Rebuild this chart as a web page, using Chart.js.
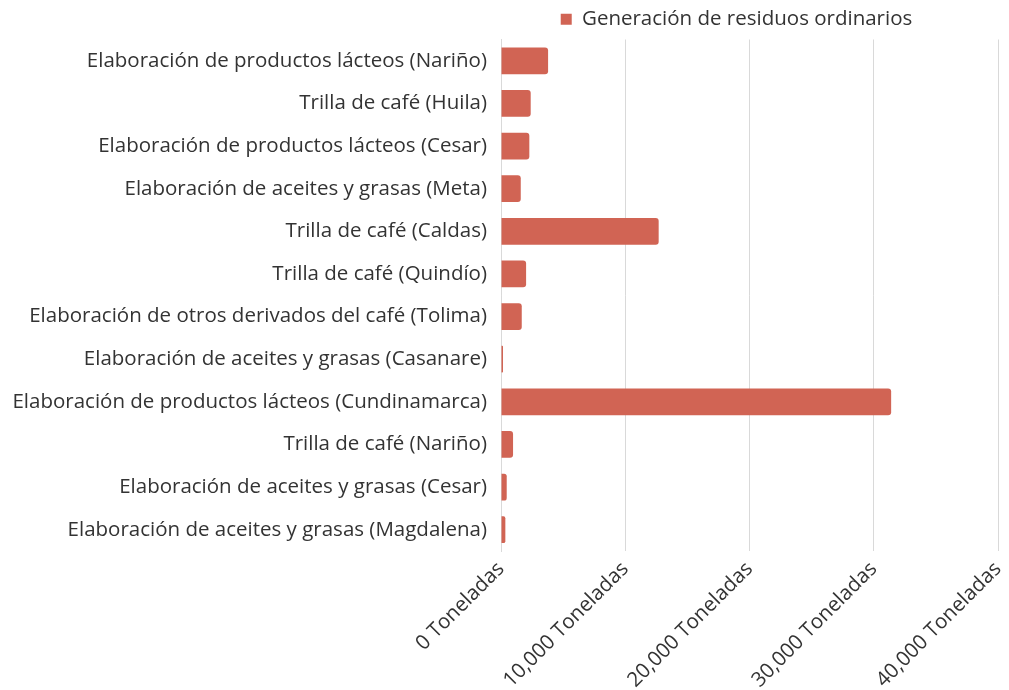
<!DOCTYPE html>
<html>
<head>
<meta charset="utf-8">
<script src="https://cdn.jsdelivr.net/npm/chart.js@4/dist/chart.umd.min.js"></script>
<style>
html,body{margin:0;padding:0;background:#fff;}
#wrap{width:1009px;height:690px;}
</style>
</head>
<body>
<div id="wrap"><canvas id="c" width="1009" height="690"></canvas></div>
<script>
const categories = [
  "Elaboración de productos lácteos (Nariño)",
  "Trilla de café (Huila)",
  "Elaboración de productos lácteos (Cesar)",
  "Elaboración de aceites y grasas (Meta)",
  "Trilla de café (Caldas)",
  "Trilla de café (Quindío)",
  "Elaboración de otros derivados del café (Tolima)",
  "Elaboración de aceites y grasas (Casanare)",
  "Elaboración de productos lácteos (Cundinamarca)",
  "Trilla de café (Nariño)",
  "Elaboración de aceites y grasas (Cesar)",
  "Elaboración de aceites y grasas (Magdalena)"
];
const seriesName = "Generación de residuos ordinarios";
const residuos = [3790, 2390, 2280, 1590, 12690, 2020, 1670, 160, 31400, 970, 460, 350];
const xTicks = [0, 10000, 20000, 30000, 40000];
const tickSuffix = " Toneladas";

const FONT = "'Open Sans', sans-serif";
const FS = 20.5;
Chart.defaults.font.family = FONT;
Chart.defaults.color = "#333333";

const legendShift = {
  id: 'legendShift',
  afterLayout(chart) {
    const lg = chart.legend;
    if (lg) { lg.left -= 13; lg.right -= 13; }
  }
};

new Chart(document.getElementById('c'), {
  type: 'bar',
  data: {
    labels: categories,
    datasets: [{
      label: seriesName,
      data: residuos,
      backgroundColor: '#d16454',
      borderRadius: 3,
      borderSkipped: 'start',
      categoryPercentage: 1,
      barPercentage: 0.63
    }]
  },
  plugins: [legendShift],
  options: {
    indexAxis: 'y',
    responsive: false,
    animation: false,
    layout: { padding: { left: 0, right: 0, top: 0, bottom: 0 } },
    plugins: {
      legend: {
        position: 'top',
        fullSize: false,
        labels: {
          boxWidth: 11, boxHeight: 11, padding: 9,
          font: { size: FS }, color: '#333333'
        }
      },
      tooltip: { enabled: false }
    },
    scales: {
      x: {
        min: 0, max: 40000,
        afterBuildTicks: (s) => { s.ticks = xTicks.map(v => ({ value: v })); },
        afterFit: (s) => { s.height = 139; s.paddingRight = 11; },
        grid: { color: '#d9d9d9', drawTicks: false },
        border: { display: false },
        ticks: {
          font: { size: FS }, color: '#333333',
          maxRotation: 45, minRotation: 45, padding: 6,
          callback: (v) => v.toLocaleString('en-US') + tickSuffix
        }
      },
      y: {
        afterFit: (s) => { s.width = 501; },
        grid: { display: false, drawTicks: false },
        border: { display: true, color: '#d9d9d9' },
        ticks: { font: { size: FS }, color: '#333333', padding: 14 }
      }
    }
  }
});
</script>
</body>
</html>
